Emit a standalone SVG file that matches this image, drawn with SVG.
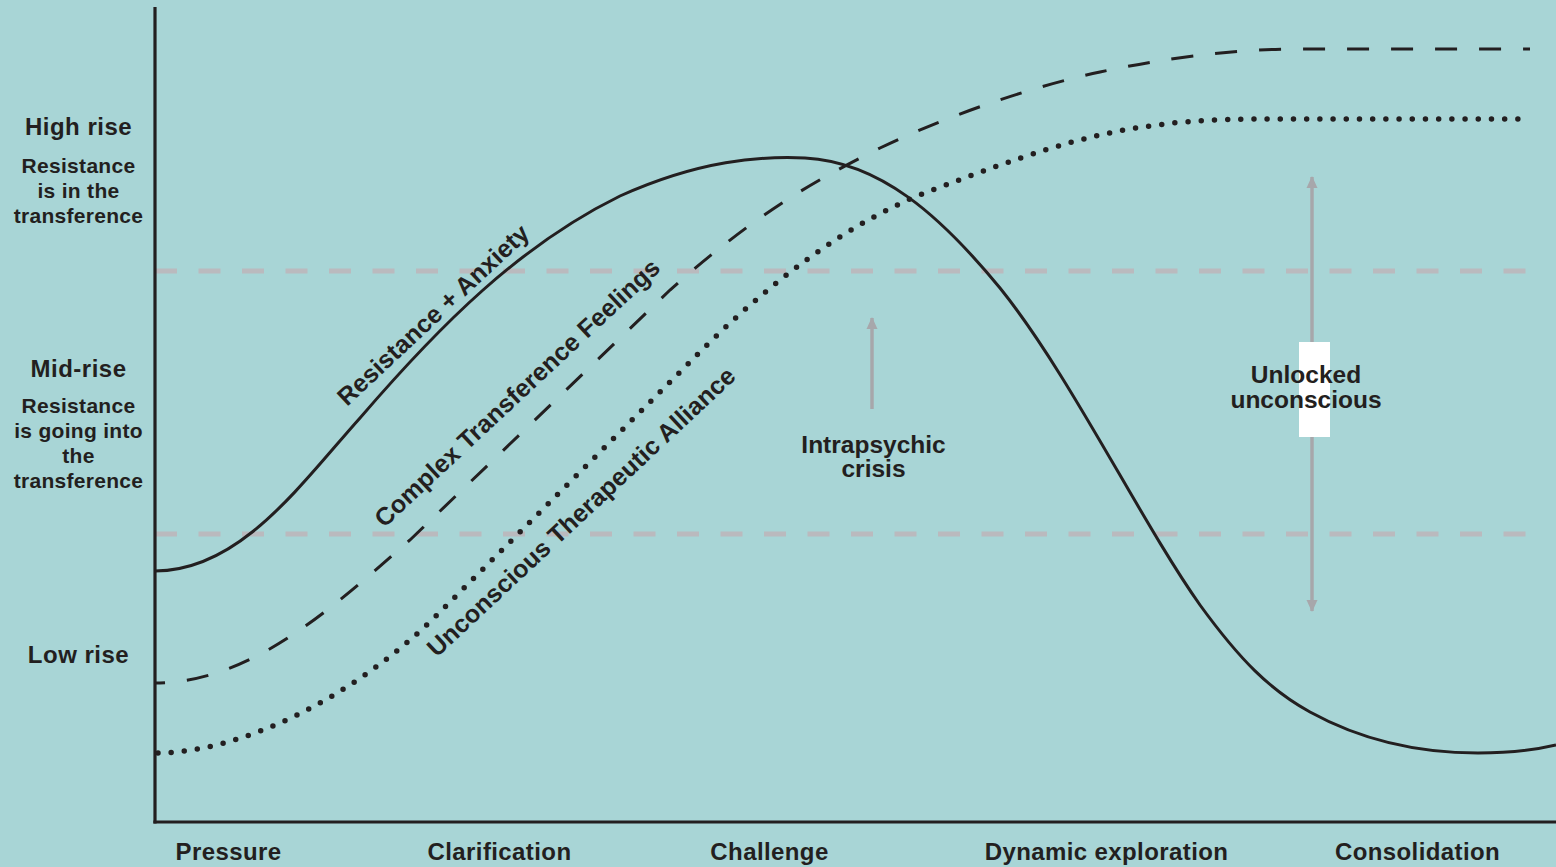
<svg xmlns="http://www.w3.org/2000/svg" width="1556" height="867" viewBox="0 0 1556 867">
  <style>
    .lbl { font-family: "Liberation Sans", Arial, Helvetica, sans-serif; font-weight: bold; fill: #231f20; }
    .axis-title { font-size: 24px; text-anchor: middle; letter-spacing: 0.5px; }
    .axis-sub { font-size: 21px; text-anchor: middle; letter-spacing: 0.3px; }
    .stage { font-size: 24px; text-anchor: middle; letter-spacing: 0.4px; }
    .curve-lbl { font-size: 25px; text-anchor: middle; letter-spacing: 0.1px; }
    .note { font-size: 24.5px; text-anchor: middle; }
    .guide { stroke: #bababe; stroke-width: 5; stroke-dasharray: 22 21.5; fill: none; }
    .curve { fill: none; stroke: #231f20; stroke-width: 3; }
    .dashed { stroke-dasharray: 22 22; stroke-dashoffset: 12; }
    .dotted { stroke-width: 5.5; stroke-dasharray: 0 13.2; stroke-linecap: round; }
    .pointer { stroke: #a7a7ab; stroke-width: 3.5; fill: none; }
  </style>
  <defs>
    <marker id="grey-head" viewBox="0 0 12 20" refX="11" refY="10" markerWidth="12" markerHeight="20" markerUnits="userSpaceOnUse" orient="auto">
      <path d="M0,4.5 L12,10 L0,15.5 Z" fill="#a7a7ab"/>
    </marker>
  </defs>

  <!-- background -->
  <rect x="0" y="0" width="1556" height="867" fill="#a8d5d6"/>

  <!-- level guides -->
  <g id="guides">
    <line class="guide" x1="155" y1="271" x2="1526" y2="271"/>
    <line class="guide" x1="155" y1="534" x2="1526" y2="534"/>
  </g>

  <!-- axes -->
  <g id="axes" stroke="#231f20" stroke-width="3.2" fill="none">
    <line x1="155" y1="7" x2="155" y2="823.5"/>
    <line x1="153.4" y1="822" x2="1556" y2="822"/>
  </g>

  <!-- curves -->
  <g id="connectors">
    <path id="resistance-anxiety" class="curve"
      d="M155,571 C240,571 300,485 360,418 C440,325 520,245 620,196 C700,160 760,156 805,158 C880,162 940,215 1000,288 C1070,375 1140,520 1200,605 C1240,660 1270,690 1310,712 C1370,745 1430,753 1478,753 C1510,753 1535,750 1556,745"/>
    <path id="transference-feelings" class="curve dashed"
      d="M155,683 C250,683 330,610 410,540 L670,290 C760,210 820,178 880,148 C960,110 1040,85 1100,72 C1160,59 1230,49 1300,49 L1530,49"/>
    <path id="therapeutic-alliance" class="curve dotted"
      d="M158,753 C240,752 350,700 435,617 L687,365 C760,290 845,222 935,189 C1012,160 1080,135 1150,126 C1190,120 1230,119 1260,119 L1524,119"/>
    <line id="crisis-arrow" class="pointer" x1="872" y1="409" x2="872" y2="318" marker-end="url(#grey-head)"/>
    <line id="unlocked-arrow-up" class="pointer" x1="1312" y1="390" x2="1312" y2="177" marker-end="url(#grey-head)"/>
    <line id="unlocked-arrow-down" class="pointer" x1="1312" y1="390" x2="1312" y2="611" marker-end="url(#grey-head)"/>
  </g>

  <!-- level labels -->
  <g id="level-high">
    <text class="lbl axis-title" x="78.5" y="135">High rise</text>
    <text class="lbl axis-sub" x="78.5" y="173">Resistance</text>
    <text class="lbl axis-sub" x="78.5" y="198">is in the</text>
    <text class="lbl axis-sub" x="78.5" y="223">transference</text>
  </g>
  <g id="level-mid">
    <text class="lbl axis-title" x="78.5" y="377">Mid-rise</text>
    <text class="lbl axis-sub" x="78.5" y="413">Resistance</text>
    <text class="lbl axis-sub" x="78.5" y="438">is going into</text>
    <text class="lbl axis-sub" x="78.5" y="463">the</text>
    <text class="lbl axis-sub" x="78.5" y="488">transference</text>
  </g>
  <g id="level-low">
    <text class="lbl axis-title" x="78.5" y="663">Low rise</text>
  </g>

  <!-- stage labels -->
  <g id="stages">
    <text class="lbl stage" x="228.5" y="860">Pressure</text>
    <text class="lbl stage" x="499.5" y="860">Clarification</text>
    <text class="lbl stage" x="769.5" y="860">Challenge</text>
    <text class="lbl stage" x="1106.5" y="860">Dynamic exploration</text>
    <text class="lbl stage" x="1417.5" y="860">Consolidation</text>
  </g>

  <!-- curve labels -->
  <g id="label-resistance">
    <text class="lbl curve-lbl" transform="translate(439,321) rotate(-43)">Resistance + Anxiety</text>
  </g>
  <g id="label-transference">
    <text class="lbl curve-lbl" transform="translate(523,399) rotate(-43)">Complex Transference Feelings</text>
  </g>
  <g id="label-alliance">
    <text class="lbl curve-lbl" transform="translate(587,518) rotate(-43)">Unconscious Therapeutic Alliance</text>
  </g>

  <!-- annotations -->
  <g id="crisis">
    <text class="lbl note" x="873.5" y="453">Intrapsychic</text>
    <text class="lbl note" x="873.5" y="477">crisis</text>
  </g>
  <g id="unlocked">
    <rect x="1299" y="342" width="31" height="95" fill="#ffffff"/>
    <text class="lbl note" x="1306" y="383">Unlocked</text>
    <text class="lbl note" x="1306" y="408">unconscious</text>
  </g>
</svg>
